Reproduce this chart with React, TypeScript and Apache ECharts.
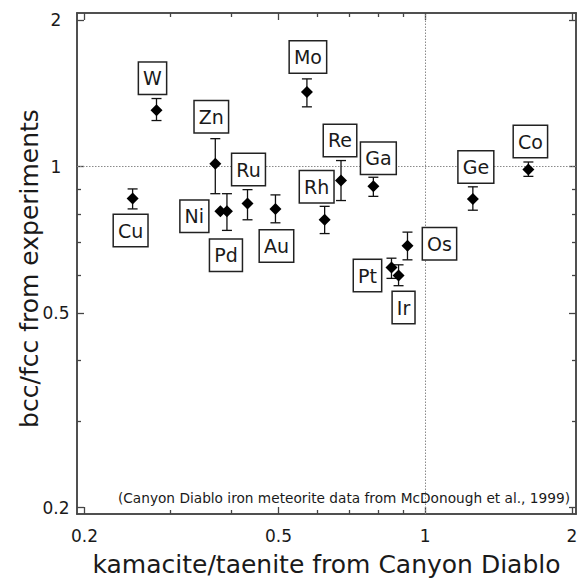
import React, { useEffect, useRef } from "react";
import * as echarts from "echarts";

// ---- data ----
const elements = ["W", "Zn", "Ni", "Pd", "Ru", "Au", "Cu", "Mo", "Re", "Ga", "Rh", "Os", "Pt", "Ir", "Ge", "Co"];
const kamaciteTaenite = [0.281, 0.371, 0.380, 0.392, 0.432, 0.493, 0.251, 0.572, 0.672, 0.783, 0.622, 0.920, 0.853, 0.882, 1.253, 1.629];
const bccFcc = [1.305, 1.013, 0.810, 0.810, 0.840, 0.819, 0.860, 1.423, 0.937, 0.911, 0.778, 0.688, 0.621, 0.598, 0.858, 0.986];
const errLow = [1.243, 0.880, null, 0.740, 0.778, 0.767, 0.819, 1.326, 0.852, 0.869, 0.729, 0.644, 0.590, 0.570, 0.814, 0.955];
const errHigh = [1.379, 1.141, null, 0.880, 0.897, 0.875, 0.900, 1.513, 1.029, 0.951, 0.829, 0.734, 0.649, 0.629, 0.909, 1.022];

const majorTicks = [0.2, 0.5, 1, 2];
const minorTicks = [0.3, 0.4, 0.6, 0.7, 0.8, 0.9];
const referenceX = 1;
const referenceY = 1;

const xTitle = "kamacite/taenite from Canyon Diablo";
const yTitle = "bcc/fcc from experiments";
const note = "(Canyon Diablo iron meteorite data from McDonough et al., 1999)";

// ---- layout / style (not data) ----
const X_MIN = 0.193;
const X_MAX = 2.04;
const Y_MIN = 0.194;
const Y_MAX = 2.065;

// label box offsets (px) from each marker
const labelOffsets: Record<string, [number, number]> = {
  W: [-4, -32],
  Zn: [-4, -47],
  Ni: [-26, 5],
  Pd: [-1, 44],
  Ru: [1, -34],
  Au: [1, 37],
  Cu: [-2, 32],
  Mo: [1, -35],
  Re: [-1, -40],
  Ga: [5, -28],
  Rh: [-8, -33],
  Os: [32, -2],
  Pt: [-24, 8],
  Ir: [5, 32],
  Ge: [3, -32],
  Co: [2, -28],
};

const FONT = "DejaVu Sans";
const AXIS_COLOR = "#454545";
const TEXT_COLOR = "#1a1a1a";

function makeAxis(kind: "x" | "y", position: string, ticks: number[], len: number, labels: boolean, extra: any = {}) {
  const isX = kind === "x";
  return {
    type: "log",
    logBase: 10,
    min: isX ? X_MIN : Y_MIN,
    max: isX ? X_MAX : Y_MAX,
    position,
    nameMoveOverlap: false,
    axisLine: { show: true, onZero: false, lineStyle: { color: AXIS_COLOR, width: 1.5 } },
    axisTick: {
      show: true,
      inside: true,
      length: len,
      customValues: ticks,
      lineStyle: { color: AXIS_COLOR, width: 1.3 },
    },
    axisLabel: labels
      ? {
          show: true,
          customValues: ticks,
          formatter: (v: number) => String(Math.round(v * 10) / 10),
          fontFamily: FONT,
          fontSize: 17,
          color: TEXT_COLOR,
          margin: isX ? 13 : 21,
          ...(isX
            ? { align: "center", alignMinLabel: "center", alignMaxLabel: "center" }
            : {
                align: "center",
                verticalAlign: "middle",
                verticalAlignMinLabel: "middle",
                verticalAlignMaxLabel: "middle",
                padding: [4, 0, 0, 0],
              }),
        }
      : { show: false },
    splitLine: { show: false },
    minorTick: { show: false },
    minorSplitLine: { show: false },
    ...extra,
  };
}

export default function App() {
  const ref = useRef<HTMLDivElement>(null);

  useEffect(() => {
    if (!ref.current) return;
    const chart = echarts.init(ref.current, undefined, { renderer: "svg" });

    const pointData = elements.map((name, i) => ({
      name,
      value: [kamaciteTaenite[i], bccFcc[i]],
    }));

    const errData = elements.map((name, i) => [
      kamaciteTaenite[i],
      errLow[i] == null ? NaN : errLow[i],
      errHigh[i] == null ? NaN : errHigh[i],
    ]);

    const option: any = {
      animation: false,
      backgroundColor: "#fff",
      grid: { left: 77, top: 13, right: 8, bottom: 65, containLabel: false, outerBoundsMode: "none" },
      xAxis: [
        makeAxis("x", "bottom", majorTicks, 7, true, {
          name: xTitle,
          nameLocation: "middle",
          nameGap: 38,
          nameTextStyle: { fontFamily: FONT, fontSize: 25, color: TEXT_COLOR },
        }),
        makeAxis("x", "bottom", minorTicks, 4, false),
        makeAxis("x", "top", majorTicks, 7, false),
        makeAxis("x", "top", minorTicks, 4, false),
      ],
      yAxis: [
        makeAxis("y", "left", majorTicks, 7, true, {
          name: yTitle,
          nameLocation: "middle",
          nameGap: 35,
          nameTextStyle: { fontFamily: FONT, fontSize: 25, color: TEXT_COLOR, padding: [0, 10, 0, 0] },
        }),
        makeAxis("y", "left", minorTicks, 4, false),
        makeAxis("y", "right", majorTicks, 7, false),
        makeAxis("y", "right", minorTicks, 4, false),
      ],
      graphic: [
        {
          type: "text",
          x: 570,
          y: 498,
          style: {
            text: note,
            align: "right",
            verticalAlign: "middle",
            font: `13.7px "${FONT}"`,
            fill: TEXT_COLOR,
          },
          z: 10,
        },
      ],
      series: [
        {
          type: "custom",
          xAxisIndex: 0,
          yAxisIndex: 0,
          data: errData,
          encode: { x: 0, y: [1, 2] },
          z: 3,
          silent: true,
          renderItem: (params: any, api: any) => {
            const x = api.value(0);
            const lo = api.value(1);
            const hi = api.value(2);
            if (!isFinite(lo) || !isFinite(hi)) return null;
            const top = api.coord([x, hi]);
            const bot = api.coord([x, lo]);
            const w = 5;
            const style = { stroke: "#111", lineWidth: 1.3 };
            return {
              type: "group",
              children: [
                { type: "line", shape: { x1: top[0], y1: top[1], x2: bot[0], y2: bot[1] }, style },
                { type: "line", shape: { x1: top[0] - w, y1: top[1], x2: top[0] + w, y2: top[1] }, style },
                { type: "line", shape: { x1: bot[0] - w, y1: bot[1], x2: bot[0] + w, y2: bot[1] }, style },
              ],
            };
          },
        },
        {
          type: "scatter",
          xAxisIndex: 0,
          yAxisIndex: 0,
          symbol: "diamond",
          symbolSize: 12,
          z: 4,
          silent: true,
          itemStyle: { color: "#000", opacity: 1 },
          data: pointData,
          label: { show: false },
          emphasis: { disabled: true },
          markLine: {
            silent: true,
            symbol: "none",
            label: { show: false },
            lineStyle: { color: "#8a8a8a", width: 1, type: [1.5, 1.5] },
            data: [{ xAxis: referenceX }, { yAxis: referenceY }],
            z: 1,
          },
        },
        {
          type: "custom",
          xAxisIndex: 0,
          yAxisIndex: 0,
          data: pointData,
          encode: { x: 0, y: 1 },
          z: 6,
          silent: true,
          renderItem: (params: any, api: any) => {
            const name = elements[params.dataIndex];
            const p = api.coord([api.value(0), api.value(1)]);
            const off = labelOffsets[name] || [0, 0];
            return {
              type: "text",
              x: p[0] + off[0],
              y: p[1] + off[1],
              style: {
                text: name,
                align: "center",
                verticalAlign: "middle",
                font: `19px "${FONT}"`,
                lineHeight: 22,
                fill: TEXT_COLOR,
                backgroundColor: "#fff",
                borderColor: "#222",
                borderWidth: 1.5,
                padding: [5, 4, 4, 4],
              },
            };
          },
        },
      ],
    };

    chart.setOption(option);
    return () => chart.dispose();
  }, []);

  return (
    <div
      ref={ref}
      style={{ position: "absolute", left: 0, top: 0, width: 584, height: 579, background: "#fff" }}
    />
  );
}
